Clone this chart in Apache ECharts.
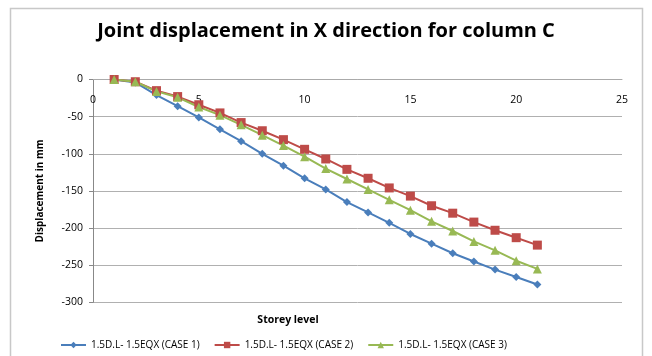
<!DOCTYPE html>
<html>
<head>
<meta charset="utf-8">
<script src="https://cdn.jsdelivr.net/npm/echarts@6/dist/echarts.min.js"></script>
<style>
html,body{margin:0;padding:0;background:#fff;}
#c{width:652px;height:356px;}
</style>
</head>
<body>
<div id="c"></div>
<script>
const storeys = [1,2,3,4,5,6,7,8,9,10,11,12,13,14,15,16,17,18,19,20,21];
const case1 = [0,-4,-21,-36,-51,-67,-83,-100,-116,-133,-148,-165,-179,-193,-208,-221,-234,-245,-256,-266,-276];
const case2 = [0,-3,-15,-23,-34,-45,-58,-69,-81,-94,-107,-121,-133,-146,-157,-170,-180,-192,-203,-213,-223];
const case3 = [0,-3,-16,-24,-37,-48,-61,-75,-89,-104,-120,-134,-148,-162,-176,-191,-204,-218,-230,-244,-255];
const seriesNames = ['1.5D.L- 1.5EQX (CASE 1)','1.5D.L- 1.5EQX (CASE 2)','1.5D.L- 1.5EQX (CASE 3)'];
const xTicks = [0,5,10,15,20,25];
const yTicks = [0,-50,-100,-150,-200,-250,-300];

const pair = arr => storeys.map((s,i)=>[s,arr[i]]);
const font = '"Open Sans", "DejaVu Sans", sans-serif';
const chart = echarts.init(document.getElementById('c'), null, {renderer:'canvas'});
chart.setOption({
  animation:false,
  backgroundColor:'#fff',
  graphic:[{type:'rect',shape:{x:10.5,y:8.5,width:632,height:360},style:{fill:'none',stroke:'#c8c8c8',lineWidth:1.5}}],
  title:[
    {text:'Joint displacement in X direction for column C',left:'center',top:16,
     textStyle:{fontFamily:font,fontSize:20,fontWeight:'bold',color:'#000'}},
    {text:'Storey level',left:283,top:310,textAlign:'center',
     textStyle:{fontFamily:font,fontSize:10.5,fontWeight:'bold',color:'#000'}}
  ],
  legend:{top:335,left:55,itemWidth:25,itemHeight:8,itemGap:14,
    textStyle:{fontFamily:font,fontSize:10,color:'#000'},
    data:seriesNames},
  grid:{left:93,right:30,top:79.5,bottom:53.7},
  xAxis:{type:'value',min:0,max:25,interval:5,position:'top',
    axisLine:{lineStyle:{color:'#aaa'}},
    axisTick:{show:false},
    axisLabel:{inside:true,fontFamily:font,fontSize:10.5,color:'#000',margin:15,
      formatter:v=>xTicks.includes(v)?String(v):''},
    splitLine:{show:false}},
  yAxis:{type:'value',min:-300,max:0,interval:50,
    name:'Displacement in mm',nameLocation:'middle',nameGap:48,nameRotate:90,
    nameTextStyle:{fontFamily:font,fontSize:10,fontWeight:'bold',color:'#000'},
    axisLine:{show:true,lineStyle:{color:'#888'}},
    axisTick:{show:true,length:4,lineStyle:{color:'#888'}},
    axisLabel:{fontFamily:font,fontSize:10.5,color:'#000',margin:10,
      formatter:v=>yTicks.includes(v)?String(v):''},
    splitLine:{show:true,lineStyle:{color:'#b0b0b0',width:1}}},
  series:[
    {name:seriesNames[0],type:'line',data:pair(case1),symbol:'diamond',symbolSize:8,
     lineStyle:{color:'#4a7ebb',width:2},itemStyle:{color:'#4a7ebb'}},
    {name:seriesNames[1],type:'line',data:pair(case2),symbol:'rect',symbolSize:9,
     lineStyle:{color:'#be4b48',width:2},itemStyle:{color:'#be4b48'}},
    {name:seriesNames[2],type:'line',data:pair(case3),symbol:'triangle',symbolSize:9,
     lineStyle:{color:'#98b954',width:2},itemStyle:{color:'#98b954'}}
  ]
});
</script>
</body>
</html>
